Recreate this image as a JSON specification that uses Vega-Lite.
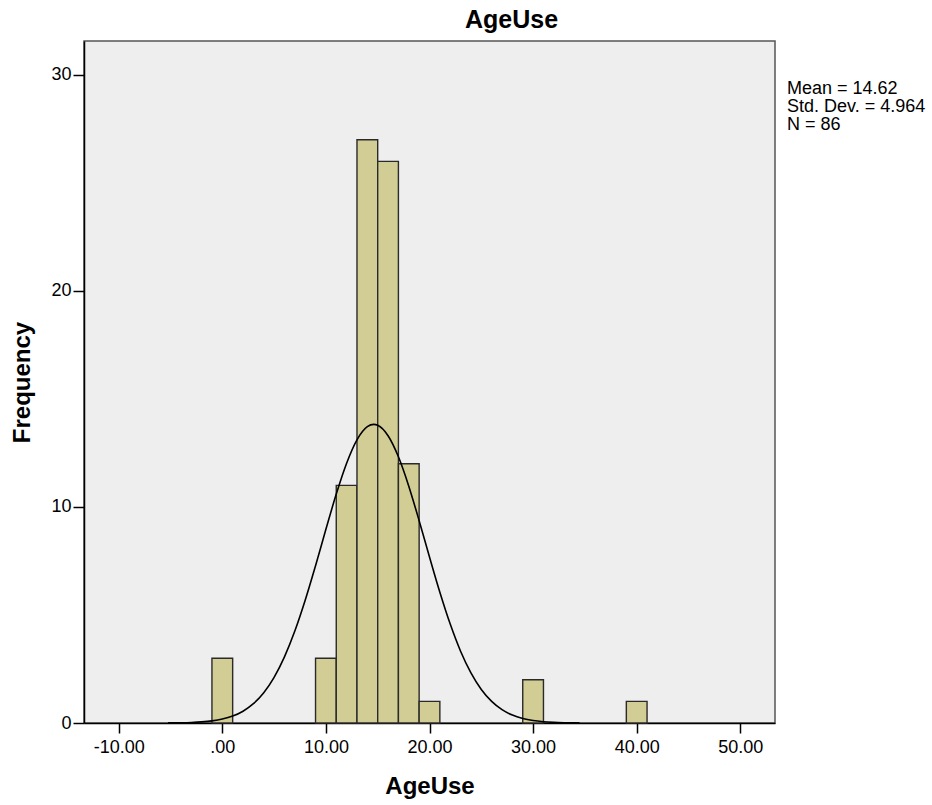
{
  "$schema": "https://vega.github.io/schema/vega-lite/v6.json",
  "autosize": "none",
  "width": 691,
  "height": 682,
  "padding": {"left": 84, "top": 41, "right": 157, "bottom": 82},
  "background": "white",
  "title": {"text": "AgeUse", "font": "Liberation Sans", "fontSize": 25, "fontWeight": "bold", "color": "#000000", "anchor": "middle", "dx": 82, "baseline": "alphabetic", "offset": -12, "frame": "group"},
  "config": {
    "view": {"fill": "#eeeeee", "stroke": "#555555", "strokeWidth": 1.5},
    "axis": {"grid": false, "domainColor": "#000000", "domainWidth": 1.5, "tickColor": "#000000", "tickWidth": 1.5, "labelFont": "Liberation Sans", "labelFontSize": 18, "labelColor": "#000000", "titleFont": "Liberation Sans", "titleFontSize": 24, "titleFontWeight": "bold", "titleColor": "#000000"}
  },
  "layer": [
    {
      "data": {"values": [
        {"bin_start": -1, "bin_end": 1, "count": 3},
        {"bin_start": 9, "bin_end": 11, "count": 3},
        {"bin_start": 11, "bin_end": 13, "count": 11},
        {"bin_start": 13, "bin_end": 15, "count": 27},
        {"bin_start": 15, "bin_end": 17, "count": 26},
        {"bin_start": 17, "bin_end": 19, "count": 12},
        {"bin_start": 19, "bin_end": 21, "count": 1},
        {"bin_start": 29, "bin_end": 31, "count": 2},
        {"bin_start": 39, "bin_end": 41, "count": 1}
      ]},
      "mark": {"type": "bar", "fill": "#d2cd94", "stroke": "#2a2a2a", "strokeWidth": 1.4, "opacity": 1},
      "encoding": {
        "x": {"field": "bin_start", "type": "quantitative", "title": "AgeUse",
              "scale": {"domain": [-13.35, 53.35], "nice": false, "zero": false},
              "axis": {"values": [-10, 0, 10, 20, 30, 40, 50], "tickSize": 10, "labelPadding": 5, "titlePadding": 18, "labelExpr": "datum.value == 0 ? '.00' : (datum.value < 0 ? '-' : '') + format(abs(datum.value), '.2f')", "labelFlush": false}},
        "x2": {"field": "bin_end"},
        "y": {"field": "count", "type": "quantitative", "title": "Frequency",
              "scale": {"domain": [0, 31.57], "nice": false},
              "axis": {"values": [0, 10, 20, 30], "format": "d", "tickSize": 11, "labelPadding": 2, "titlePadding": 16}},
        "y2": {"datum": 0}
      }
    },
    {
      "data": {"values": [
        {"x": -5.24, "y": 0.0046}, {"x": -4, "y": 0.0122}, {"x": -3, "y": 0.0254}, {"x": -2, "y": 0.0509},
        {"x": -1, "y": 0.0978}, {"x": 0, "y": 0.1808}, {"x": 1, "y": 0.3206}, {"x": 2, "y": 0.5459},
        {"x": 3, "y": 0.8925}, {"x": 4, "y": 1.402}, {"x": 5, "y": 2.114}, {"x": 6, "y": 3.061},
        {"x": 7, "y": 4.255}, {"x": 8, "y": 5.681}, {"x": 9, "y": 7.282}, {"x": 10, "y": 8.965},
        {"x": 11, "y": 10.596}, {"x": 12, "y": 12.026}, {"x": 13, "y": 13.106}, {"x": 14, "y": 13.716},
        {"x": 14.62, "y": 13.823}, {"x": 15, "y": 13.783}, {"x": 16, "y": 13.299}, {"x": 17, "y": 12.323},
        {"x": 18, "y": 10.964}, {"x": 19, "y": 9.366}, {"x": 20, "y": 7.683}, {"x": 21, "y": 6.052},
        {"x": 22, "y": 4.578}, {"x": 23, "y": 3.324}, {"x": 24, "y": 2.319}, {"x": 25, "y": 1.553},
        {"x": 26, "y": 0.9986}, {"x": 27, "y": 0.6164}, {"x": 28, "y": 0.3656}, {"x": 29, "y": 0.2082},
        {"x": 30, "y": 0.1138}, {"x": 31, "y": 0.0597}, {"x": 32, "y": 0.0301}, {"x": 33, "y": 0.0146},
        {"x": 34, "y": 0.0068}, {"x": 34.48, "y": 0.0046}
      ]},
      "mark": {"type": "line", "color": "#000000", "strokeWidth": 1.6, "interpolate": "monotone"},
      "encoding": {
        "x": {"field": "x", "type": "quantitative", "title": "AgeUse"},
        "y": {"field": "y", "type": "quantitative", "title": "Frequency"}
      }
    },
    {
      "data": {"values": [{"label": "Mean = 14.62\nStd. Dev. = 4.964\nN = 86"}]},
      "mark": {"type": "text", "align": "left", "baseline": "top", "lineBreak": "\n", "lineHeight": 18, "font": "Liberation Sans", "fontSize": 18, "color": "#000000", "dx": 12, "clip": false},
      "encoding": {
        "x": {"datum": 53.35, "type": "quantitative"},
        "y": {"datum": 29.77, "type": "quantitative"},
        "text": {"field": "label"}
      }
    }
  ]
}
